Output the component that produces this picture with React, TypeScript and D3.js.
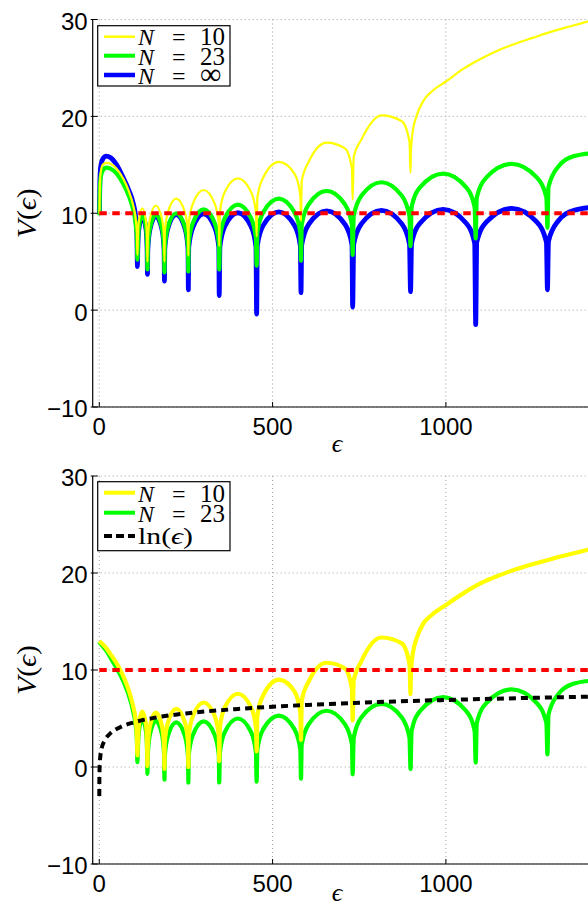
import React, { Component } from "react";
import * as d3 from "d3";

// energies sampled along the N = 23 / N = inf curves (dips + arc shoulders + arc tops)
const eps = [0.3, 1.5, 4, 10, 20, 32, 50, 70, 85, 98, 105, 108.5,
  110, 111, 114, 124, 135, 138,
  139, 140, 146, 163, 181, 187,
  188, 189, 198, 222, 247, 256,
  257, 258, 270, 301, 333, 345,
  346, 348, 362, 400, 438, 452,
  454, 456, 473, 518, 563, 580,
  582, 584, 604, 656, 709, 729,
  731, 734, 756, 814, 873, 895,
  898, 901, 926, 992, 1058, 1083,
  1086, 1089, 1117, 1190, 1262, 1290,
  1293, 1296, 1324, 1370, 1420];

// N = 10 has no more dips after 898
const eps10Tail = [899, 901, 905, 915, 935, 960, 1000, 1050, 1104, 1150, 1200, 1250, 1300, 1360, 1420];

// upper panel
const vInfTop = [10.0, 13.0, 14.8, 15.6, 15.9, 15.75, 15.0, 13.6, 12.4, 11.0, 9.6, 7.8,
  4.5, 6.2, 8.3, 9.7, 8.3, 6.2,
  3.7, 6.2, 8.3, 9.7, 8.3, 6.2,
  3.0, 6.35, 8.45, 9.85, 8.45, 6.35,
  2.1, 6.45, 8.55, 9.95, 8.55, 6.45,
  1.5, 6.55, 8.65, 10.05, 8.65, 6.55,
  -0.4, 6.65, 8.75, 10.15, 8.75, 6.65,
  1.8, 6.75, 8.85, 10.25, 8.85, 6.75,
  0.3, 6.8, 8.9, 10.3, 8.9, 6.8,
  1.9, 6.9, 9.0, 10.4, 9.0, 6.9,
  -1.5, 7.0, 9.1, 10.5, 9.1, 7.0,
  2.1, 7.1, 9.2, 10.3, 10.6];

const v23Top = [9.8, 12.2, 13.7, 14.4, 14.7, 14.6, 14.1, 13.0, 11.8, 10.3, 8.9, 7.3,
  5.2, 6.4, 8.5, 9.9, 8.5, 6.4,
  4.2, 6.35, 8.45, 9.85, 8.45, 6.35,
  3.9, 6.5, 8.6, 10.0, 8.6, 6.5,
  4.0, 6.9, 9.0, 10.4, 9.0, 6.9,
  4.2, 7.4, 9.5, 10.9, 9.5, 7.4,
  4.6, 8.0, 10.1, 11.5, 10.1, 8.0,
  5.1, 8.8, 10.9, 12.3, 10.9, 8.8,
  5.7, 9.7, 11.8, 13.2, 11.8, 9.7,
  6.6, 10.6, 12.7, 14.1, 12.7, 10.6,
  7.4, 11.6, 13.7, 15.1, 13.7, 11.6,
  8.5, 12.7, 14.8, 15.9, 16.2];

const v10Top = [10.0, 12.6, 14.2, 15.0, 15.2, 15.1, 14.6, 13.5, 12.3, 10.8, 9.4, 7.8,
  5.7, 7.0, 9.1, 10.5, 9.1, 7.0,
  5.0, 7.3, 9.4, 10.8, 9.4, 7.3,
  5.0, 8.0, 10.1, 11.5, 10.1, 8.0,
  5.6, 8.9, 11.0, 12.4, 11.0, 8.9,
  6.6, 10.1, 12.2, 13.6, 12.2, 10.1,
  7.6, 11.6, 13.7, 15.3, 14.1, 11.9,
  9.2, 13.3, 15.3, 17.3, 16.7, 14.6,
  11.4, 15.8, 17.6, 20.1, 19.5, 17.4,
  14.2];
const v10TopTail = [16.2, 17.4, 18.6, 20.0, 21.6, 22.6, 23.6, 24.9, 26.0, 26.8, 27.5, 28.1, 28.7, 29.3, 29.9];

// lower panel
const v23Bot = [12.9, 12.8, 12.7, 12.45, 12.0, 11.3, 10.2, 8.8, 7.4, 5.7, 4.3, 2.8,
  0.5, 1.5, 3.6, 5.0, 3.6, 1.5,
  -0.7, 1.25, 3.35, 4.75, 3.35, 1.25,
  -1.3, 1.1, 3.2, 4.6, 3.2, 1.1,
  -1.6, 1.2, 3.3, 4.7, 3.3, 1.2,
  -1.6, 1.5, 3.6, 5.0, 3.6, 1.5,
  -1.5, 1.8, 3.9, 5.3, 3.9, 1.8,
  -1.2, 2.3, 4.4, 5.8, 4.4, 2.3,
  -0.75, 3.0, 5.1, 6.5, 5.1, 3.0,
  -0.2, 3.7, 5.8, 7.2, 5.8, 3.7,
  0.45, 4.5, 6.6, 8.0, 6.6, 4.5,
  1.3, 5.4, 7.5, 8.6, 8.9];

const v10Bot = [13.0, 12.95, 12.85, 12.65, 12.25, 11.65, 10.7, 9.3, 7.9, 6.2, 4.8, 3.2,
  1.2, 2.2, 4.3, 5.7, 4.3, 2.2,
  0.1, 2.1, 4.2, 5.6, 4.2, 2.1,
  -0.2, 2.5, 4.6, 6.0, 4.6, 2.5,
  0.0, 3.15, 5.25, 6.65, 5.25, 3.15,
  0.6, 4.05, 6.15, 7.55, 6.15, 4.05,
  1.6, 5.3, 7.4, 9.0, 7.8, 5.6,
  2.8, 6.8, 8.8, 10.75, 10.15, 8.0,
  4.8, 8.9, 10.9, 13.35, 12.75, 10.6,
  7.5];
const v10BotTail = [9.4, 10.6, 11.8, 13.2, 14.8, 15.7, 16.7, 17.9, 19.0, 19.7, 20.35, 20.9, 21.4, 21.95, 22.5];

// ln(eps), black dashed
const lnEps = [0.05, 0.2, 0.6, 1.5, 3, 7, 15, 30, 60, 100, 160, 250, 400, 600, 850, 1100, 1420];
const lnV = [-3.0, -1.6, -0.5, 0.4, 1.1, 1.95, 2.7, 3.4, 4.1, 4.6, 5.08, 5.52, 5.99, 6.4, 6.75, 7.0, 7.26];

// red reference level
const refEps = [0, 1420];
const refV = [10, 10];

const xTicks = [0, 500, 1000];
const yTicks = [-10, 0, 10, 20, 30];
const xDomain = [-19, 1410];
const yDomain = [-10, 30];

const W = 588;
const H = 907;
const LEFT = 92.7;
const SANS = "'Liberation Sans', Arial, Helvetica, sans-serif";
const SERIF = "'Liberation Serif', 'DejaVu Serif', 'Times New Roman', serif";

const eps10 = eps.slice(0, v10Top.length).concat(eps10Tail);

class App extends Component {
  el: HTMLDivElement | null = null;

  componentDidMount() {
    this.drawChart();
  }

  drawChart() {
    const holder = d3.select(this.el);
    holder.selectAll("*").remove();
    const svg = holder.append("svg")
      .attr("width", W)
      .attr("height", H)
      .style("position", "absolute")
      .style("left", "0px")
      .style("top", "0px")
      .style("background", "#fff");

    this.drawPanel(svg, "clipTop", 19.5, 407,
      [
        { eps: eps, v: vInfTop, color: "#0000ff", width: 4.8 },
        { eps: eps, v: v23Top, color: "#00ff00", width: 4.2 },
        { eps: eps10, v: v10Top.concat(v10TopTail), color: "#ffff00", width: 2.2 },
        { eps: refEps, v: refV, color: "#ff0000", width: 4, dash: "7.5,5.5" },
      ],
      { y0: 25.7, y1: 86, rows: [
        { color: "#ffff00", width: 2.5, val: "10", lineY: 36.7, base: 45 },
        { color: "#00ff00", width: 4, val: "23", lineY: 55.7, base: 64.5 },
        { color: "#0000ff", width: 4.5, val: "\u221e", lineY: 75, base: 83.5 },
      ] });

    this.drawPanel(svg, "clipBot", 476, 864,
      [
        { eps: eps, v: v23Bot, color: "#00ff00", width: 4.2 },
        { eps: eps10, v: v10Bot.concat(v10BotTail), color: "#ffff00", width: 4.2 },
        { eps: lnEps, v: lnV, color: "#000000", width: 4, dash: "7,5" },
        { eps: refEps, v: refV, color: "#ff0000", width: 4, dash: "7.5,5.5" },
      ],
      { y0: 481.7, y1: 550.7, rows: [
        { color: "#ffff00", width: 4, val: "10", lineY: 492.7, base: 501.7 },
        { color: "#00ff00", width: 4, val: "23", lineY: 512.7, base: 521.7 },
        { color: "#000000", width: 4, val: null, dash: "8,4", lineY: 536, base: 543.5 },
      ] });
  }

  drawPanel(svg: any, id: string, top: number, bottom: number, series: any[], legend: any) {
    const x = d3.scaleLinear().domain(xDomain).range([LEFT, W]);
    const y = d3.scaleLinear().domain(yDomain).range([bottom, top]);
    const g = svg.append("g");

    // dotted grid
    g.append("g").selectAll("line")
      .data(xTicks)
      .join("line")
      .attr("x1", d => x(d)).attr("x2", d => x(d))
      .attr("y1", top).attr("y2", bottom)
      .attr("stroke", "#a0a0a0").attr("stroke-width", 1)
      .attr("stroke-dasharray", "1,3");
    g.append("g").selectAll("line")
      .data(yTicks)
      .join("line")
      .attr("x1", LEFT).attr("x2", W)
      .attr("y1", d => y(d)).attr("y2", d => y(d))
      .attr("stroke", "#a0a0a0").attr("stroke-width", 1)
      .attr("stroke-dasharray", "1,3");

    svg.append("clipPath").attr("id", id)
      .append("rect")
      .attr("x", LEFT).attr("y", top - 3)
      .attr("width", W - LEFT).attr("height", bottom - top + 3);

    const line = d3.line<[number, number]>()
      .x(d => x(d[0]))
      .y(d => y(d[1]))
      .curve(d3.curveMonotoneX);

    series.forEach(s => {
      g.append("path")
        .datum(d3.zip(s.eps, s.v))
        .attr("d", line)
        .attr("fill", "none")
        .attr("stroke", s.color)
        .attr("stroke-width", s.width)
        .attr("stroke-linejoin", "round")
        .attr("stroke-dasharray", s.dash || null)
        .attr("clip-path", `url(#${id})`);
    });

    // axes
    g.append("line")
      .attr("x1", LEFT).attr("x2", LEFT).attr("y1", top).attr("y2", bottom)
      .attr("stroke", "#000").attr("stroke-width", 1.2);
    g.append("line")
      .attr("x1", LEFT).attr("x2", W).attr("y1", bottom).attr("y2", bottom)
      .attr("stroke", "#000").attr("stroke-width", 1.2);

    g.append("g").selectAll("line")
      .data(yTicks)
      .join("line")
      .attr("x1", LEFT - 2).attr("x2", LEFT + 5)
      .attr("y1", d => y(d)).attr("y2", d => y(d))
      .attr("stroke", "#000").attr("stroke-width", 1);
    g.append("g").selectAll("line")
      .data(xTicks)
      .join("line")
      .attr("x1", d => x(d)).attr("x2", d => x(d))
      .attr("y1", bottom).attr("y2", bottom - 5)
      .attr("stroke", "#000").attr("stroke-width", 1);

    g.append("g").selectAll("text")
      .data(yTicks)
      .join("text")
      .attr("x", LEFT - 5)
      .attr("y", d => y(d) + 10.4)
      .attr("text-anchor", "end")
      .attr("font-family", SANS)
      .attr("font-size", 24)
      .text(d => (d < 0 ? "\u2212" + Math.abs(d) : String(d)));
    g.append("g").selectAll("text")
      .data(xTicks)
      .join("text")
      .attr("x", d => x(d))
      .attr("y", bottom + 28)
      .attr("text-anchor", "middle")
      .attr("font-family", SANS)
      .attr("font-size", 24)
      .text(d => String(d));

    // axis titles
    g.append("text")
      .attr("x", 337)
      .attr("y", Math.min(bottom + 45, H - 6))
      .attr("text-anchor", "middle")
      .attr("font-family", SERIF)
      .attr("font-style", "italic")
      .attr("font-size", 26)
      .text("\u03f5");

    const yl = g.append("text")
      .attr("transform", `translate(36,${(top + bottom) / 2}) rotate(-90)`)
      .attr("text-anchor", "middle")
      .attr("font-family", SERIF)
      .attr("font-size", 27)
      .attr("textLength", 50)
      .attr("lengthAdjust", "spacingAndGlyphs");
    yl.append("tspan").attr("font-style", "italic").text("V");
    yl.append("tspan").text("(");
    yl.append("tspan").attr("font-style", "italic").text("\u03f5");
    yl.append("tspan").text(")");

    // legend
    const lg = g.append("g");
    lg.append("rect")
      .attr("x", 97.7).attr("y", legend.y0)
      .attr("width", 230 - 97.7).attr("height", legend.y1 - legend.y0)
      .attr("fill", "#fff").attr("stroke", "#000").attr("stroke-width", 1.2);

    legend.rows.forEach((r: any) => {
      lg.append("line")
        .attr("x1", 104).attr("x2", 135)
        .attr("y1", r.lineY).attr("y2", r.lineY)
        .attr("stroke", r.color).attr("stroke-width", r.width)
        .attr("stroke-dasharray", r.dash || null);
      const t = lg.append("text")
        .attr("x", 138).attr("y", r.base)
        .attr("font-family", SERIF).attr("font-size", 24);
      if (r.val) {
        t.append("tspan").attr("x", 138).attr("font-style", "italic").text("N");
        t.append("tspan").attr("x", 172).text("=");
        t.append("tspan").attr("x", 200)
          .attr("font-size", r.val === "\u221e" ? 30 : 25)
          .text(r.val);
      } else {
        t.attr("textLength", 55).attr("lengthAdjust", "spacingAndGlyphs");
        t.append("tspan").text("ln(");
        t.append("tspan").attr("font-style", "italic").text("\u03f5");
        t.append("tspan").text(")");
      }
    });
  }

  render() {
    return <div ref={el => { this.el = el; }}></div>;
  }
}

export default App;
